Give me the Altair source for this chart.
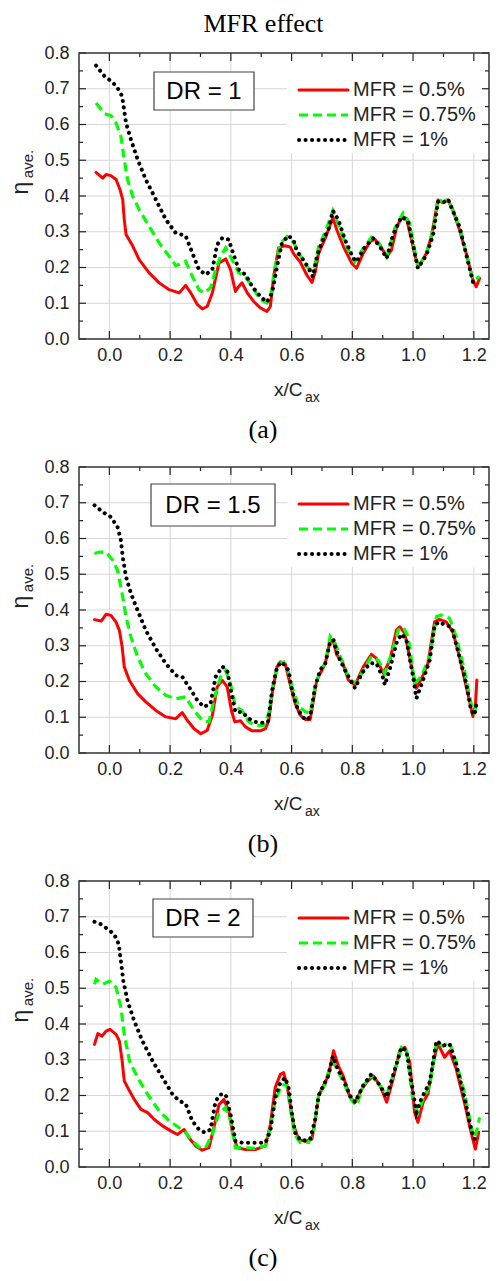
import altair as alt
import pandas as pd

# ---------------- data ----------------
SERIES = ["MFR = 0.5%", "MFR = 0.75%", "MFR = 1%"]
DR_LABELS = ["DR = 1", "DR = 1.5", "DR = 2"]
PANEL_TAGS = ["(a)", "(b)", "(c)"]
X_MAJOR = [0.0, 0.2, 0.4, 0.6, 0.8, 1.0, 1.2]
X_MINOR = [0.1, 0.3, 0.5, 0.7, 0.9, 1.1]
Y_MAJOR = [0.0, 0.1, 0.2, 0.3, 0.4, 0.5, 0.6, 0.7, 0.8]
Y_MINOR = [0.05, 0.15, 0.25, 0.35, 0.45, 0.55, 0.65, 0.75]

# Panel (a) DR = 1
A_RED_X = [-0.044, -0.022, -0.011, 0.005, 0.022, 0.035, 0.044, 0.049, 0.055, 0.077, 0.098, 0.131, 0.164, 0.197, 0.23, 0.251, 0.268, 0.29, 0.306, 0.322, 0.339, 0.361, 0.383, 0.399, 0.415, 0.426, 0.437, 0.454, 0.475, 0.497, 0.519, 0.53, 0.541, 0.557, 0.579, 0.596, 0.607, 0.628, 0.65, 0.667, 0.678, 0.689, 0.711, 0.721, 0.736, 0.749, 0.771, 0.798, 0.814, 0.836, 0.858, 0.874, 0.891, 0.913, 0.929, 0.945, 0.962, 0.978, 0.995, 1.011, 1.022, 1.044, 1.06, 1.082, 1.098, 1.115, 1.131, 1.153, 1.175, 1.197, 1.208, 1.219]
A_RED_Y = [0.466, 0.45, 0.46, 0.457, 0.446, 0.418, 0.39, 0.334, 0.292, 0.26, 0.222, 0.185, 0.157, 0.138, 0.129, 0.15, 0.129, 0.096, 0.084, 0.091, 0.129, 0.213, 0.224, 0.194, 0.133, 0.147, 0.157, 0.129, 0.105, 0.087, 0.077, 0.091, 0.175, 0.255, 0.261, 0.257, 0.238, 0.216, 0.179, 0.158, 0.188, 0.24, 0.282, 0.305, 0.34, 0.305, 0.258, 0.212, 0.198, 0.24, 0.272, 0.279, 0.263, 0.23, 0.249, 0.31, 0.342, 0.338, 0.277, 0.216, 0.207, 0.24, 0.286, 0.389, 0.381, 0.389, 0.361, 0.305, 0.24, 0.165, 0.146, 0.17]
A_GRN_X = [-0.044, -0.016, 0.005, 0.022, 0.038, 0.049, 0.06, 0.077, 0.098, 0.131, 0.164, 0.197, 0.219, 0.251, 0.273, 0.295, 0.311, 0.333, 0.35, 0.366, 0.383, 0.404, 0.426, 0.448, 0.47, 0.497, 0.519, 0.533, 0.546, 0.563, 0.585, 0.607, 0.628, 0.65, 0.672, 0.689, 0.711, 0.736, 0.754, 0.781, 0.808, 0.836, 0.863, 0.885, 0.913, 0.94, 0.967, 0.989, 1.016, 1.044, 1.066, 1.082, 1.098, 1.115, 1.153, 1.197, 1.219]
A_GRN_Y = [0.66, 0.63, 0.625, 0.604, 0.567, 0.502, 0.446, 0.399, 0.362, 0.315, 0.269, 0.231, 0.205, 0.217, 0.175, 0.138, 0.129, 0.143, 0.194, 0.231, 0.255, 0.222, 0.185, 0.175, 0.147, 0.11, 0.101, 0.129, 0.203, 0.268, 0.287, 0.27, 0.235, 0.202, 0.188, 0.258, 0.3, 0.359, 0.319, 0.258, 0.216, 0.254, 0.284, 0.272, 0.23, 0.31, 0.352, 0.324, 0.198, 0.24, 0.305, 0.391, 0.384, 0.391, 0.314, 0.165, 0.174]
A_BLK_X = [-0.044, -0.016, 0.011, 0.027, 0.042, 0.055, 0.071, 0.093, 0.12, 0.153, 0.186, 0.219, 0.251, 0.273, 0.295, 0.317, 0.339, 0.355, 0.372, 0.393, 0.407, 0.426, 0.448, 0.47, 0.497, 0.519, 0.536, 0.552, 0.568, 0.59, 0.607, 0.618, 0.639, 0.656, 0.67, 0.683, 0.7, 0.721, 0.736, 0.754, 0.776, 0.803, 0.814, 0.842, 0.869, 0.891, 0.913, 0.934, 0.962, 0.984, 1.016, 1.044, 1.066, 1.082, 1.098, 1.115, 1.153, 1.197, 1.213]
A_BLK_Y = [0.765, 0.735, 0.718, 0.702, 0.679, 0.604, 0.558, 0.502, 0.446, 0.39, 0.334, 0.296, 0.289, 0.241, 0.194, 0.18, 0.194, 0.264, 0.283, 0.278, 0.241, 0.194, 0.18, 0.147, 0.119, 0.103, 0.129, 0.203, 0.268, 0.289, 0.275, 0.244, 0.221, 0.198, 0.174, 0.23, 0.272, 0.305, 0.359, 0.333, 0.277, 0.226, 0.216, 0.258, 0.282, 0.258, 0.226, 0.291, 0.342, 0.328, 0.198, 0.235, 0.291, 0.384, 0.381, 0.391, 0.314, 0.16, 0.16]

# Panel (b) DR = 1.5
B_RED_X = [-0.049, -0.027, -0.011, 0.005, 0.022, 0.033, 0.042, 0.049, 0.066, 0.093, 0.12, 0.153, 0.186, 0.219, 0.24, 0.257, 0.279, 0.301, 0.322, 0.339, 0.355, 0.372, 0.388, 0.402, 0.413, 0.432, 0.448, 0.47, 0.497, 0.514, 0.525, 0.536, 0.552, 0.563, 0.579, 0.596, 0.612, 0.628, 0.645, 0.661, 0.672, 0.683, 0.7, 0.711, 0.727, 0.738, 0.749, 0.765, 0.787, 0.809, 0.836, 0.863, 0.879, 0.902, 0.924, 0.945, 0.956, 0.973, 0.995, 1.011, 1.033, 1.049, 1.071, 1.087, 1.109, 1.131, 1.153, 1.18, 1.197, 1.205, 1.21]
B_RED_Y = [0.373, 0.369, 0.388, 0.385, 0.366, 0.343, 0.297, 0.241, 0.203, 0.166, 0.143, 0.119, 0.101, 0.096, 0.113, 0.091, 0.068, 0.054, 0.063, 0.105, 0.185, 0.203, 0.185, 0.119, 0.087, 0.09, 0.073, 0.062, 0.062, 0.068, 0.091, 0.166, 0.241, 0.255, 0.25, 0.19, 0.139, 0.106, 0.094, 0.094, 0.148, 0.204, 0.232, 0.251, 0.316, 0.311, 0.274, 0.26, 0.204, 0.19, 0.241, 0.276, 0.265, 0.223, 0.26, 0.344, 0.353, 0.335, 0.241, 0.181, 0.218, 0.251, 0.367, 0.374, 0.367, 0.339, 0.269, 0.167, 0.102, 0.13, 0.204]
B_GRN_X = [-0.049, -0.033, -0.011, 0.011, 0.027, 0.042, 0.055, 0.071, 0.093, 0.12, 0.153, 0.186, 0.219, 0.251, 0.279, 0.306, 0.328, 0.344, 0.366, 0.383, 0.399, 0.415, 0.437, 0.459, 0.481, 0.508, 0.525, 0.541, 0.557, 0.574, 0.585, 0.601, 0.623, 0.645, 0.661, 0.678, 0.694, 0.711, 0.727, 0.743, 0.765, 0.792, 0.814, 0.836, 0.863, 0.885, 0.907, 0.929, 0.951, 0.967, 0.984, 1.005, 1.027, 1.055, 1.077, 1.093, 1.12, 1.142, 1.169, 1.191, 1.202, 1.213]
B_GRN_Y = [0.558, 0.562, 0.562, 0.539, 0.511, 0.446, 0.38, 0.324, 0.269, 0.222, 0.185, 0.161, 0.152, 0.157, 0.119, 0.091, 0.087, 0.147, 0.213, 0.231, 0.194, 0.129, 0.119, 0.087, 0.077, 0.077, 0.11, 0.203, 0.25, 0.255, 0.241, 0.186, 0.13, 0.116, 0.111, 0.186, 0.232, 0.251, 0.326, 0.307, 0.26, 0.204, 0.195, 0.232, 0.27, 0.26, 0.223, 0.279, 0.344, 0.353, 0.325, 0.195, 0.214, 0.27, 0.381, 0.386, 0.377, 0.325, 0.232, 0.139, 0.116, 0.148]
B_BLK_X = [-0.049, -0.022, 0.005, 0.027, 0.038, 0.044, 0.055, 0.071, 0.093, 0.12, 0.153, 0.186, 0.219, 0.24, 0.262, 0.29, 0.311, 0.333, 0.35, 0.372, 0.388, 0.402, 0.415, 0.437, 0.459, 0.481, 0.508, 0.522, 0.536, 0.552, 0.568, 0.59, 0.601, 0.617, 0.634, 0.65, 0.661, 0.678, 0.694, 0.711, 0.727, 0.738, 0.754, 0.781, 0.809, 0.831, 0.858, 0.879, 0.902, 0.907, 0.924, 0.945, 0.962, 0.978, 1.0, 1.011, 1.027, 1.055, 1.071, 1.087, 1.104, 1.126, 1.147, 1.175, 1.191, 1.202, 1.21]
B_BLK_Y = [0.693, 0.674, 0.66, 0.632, 0.595, 0.548, 0.492, 0.446, 0.399, 0.343, 0.292, 0.25, 0.217, 0.213, 0.185, 0.147, 0.129, 0.138, 0.213, 0.242, 0.231, 0.166, 0.115, 0.115, 0.096, 0.087, 0.084, 0.087, 0.175, 0.241, 0.255, 0.231, 0.176, 0.13, 0.102, 0.092, 0.102, 0.186, 0.232, 0.251, 0.311, 0.316, 0.27, 0.223, 0.181, 0.223, 0.251, 0.251, 0.209, 0.19, 0.237, 0.307, 0.333, 0.316, 0.214, 0.153, 0.19, 0.26, 0.358, 0.367, 0.358, 0.353, 0.288, 0.195, 0.12, 0.106, 0.144]

# Panel (c) DR = 2
C_RED_X = [-0.049, -0.038, -0.024, -0.011, 0.002, 0.022, 0.033, 0.042, 0.049, 0.066, 0.082, 0.104, 0.126, 0.148, 0.175, 0.202, 0.224, 0.246, 0.262, 0.284, 0.306, 0.328, 0.344, 0.361, 0.377, 0.393, 0.407, 0.421, 0.448, 0.481, 0.514, 0.53, 0.546, 0.563, 0.574, 0.585, 0.596, 0.607, 0.623, 0.645, 0.667, 0.678, 0.689, 0.705, 0.721, 0.738, 0.754, 0.77, 0.792, 0.809, 0.831, 0.847, 0.869, 0.891, 0.913, 0.934, 0.956, 0.973, 0.989, 1.005, 1.016, 1.033, 1.049, 1.066, 1.082, 1.104, 1.12, 1.142, 1.169, 1.191, 1.205, 1.216]
C_RED_Y = [0.343, 0.373, 0.366, 0.38, 0.385, 0.371, 0.352, 0.297, 0.241, 0.213, 0.189, 0.161, 0.152, 0.133, 0.115, 0.101, 0.091, 0.105, 0.082, 0.059, 0.047, 0.054, 0.11, 0.175, 0.189, 0.157, 0.091, 0.054, 0.049, 0.049, 0.059, 0.119, 0.222, 0.259, 0.264, 0.228, 0.172, 0.116, 0.078, 0.071, 0.078, 0.134, 0.2, 0.228, 0.255, 0.325, 0.283, 0.255, 0.195, 0.181, 0.218, 0.237, 0.255, 0.228, 0.181, 0.246, 0.325, 0.335, 0.293, 0.153, 0.125, 0.181, 0.204, 0.293, 0.344, 0.307, 0.325, 0.274, 0.181, 0.097, 0.05, 0.097]
C_GRN_X = [-0.049, -0.044, -0.022, 0.0, 0.022, 0.038, 0.049, 0.066, 0.093, 0.126, 0.164, 0.197, 0.23, 0.251, 0.273, 0.295, 0.317, 0.339, 0.361, 0.383, 0.399, 0.415, 0.448, 0.481, 0.514, 0.53, 0.546, 0.568, 0.585, 0.596, 0.612, 0.628, 0.656, 0.672, 0.689, 0.71, 0.727, 0.738, 0.76, 0.781, 0.798, 0.814, 0.836, 0.863, 0.891, 0.913, 0.934, 0.962, 0.978, 1.0, 1.016, 1.033, 1.055, 1.077, 1.098, 1.12, 1.142, 1.169, 1.194, 1.205, 1.219]
C_GRN_Y = [0.511, 0.525, 0.511, 0.52, 0.502, 0.446, 0.371, 0.297, 0.25, 0.203, 0.157, 0.129, 0.11, 0.096, 0.073, 0.056, 0.054, 0.091, 0.152, 0.166, 0.129, 0.054, 0.054, 0.052, 0.059, 0.11, 0.185, 0.231, 0.228, 0.162, 0.088, 0.069, 0.069, 0.097, 0.2, 0.232, 0.283, 0.293, 0.255, 0.218, 0.186, 0.172, 0.228, 0.255, 0.228, 0.2, 0.255, 0.335, 0.33, 0.181, 0.153, 0.19, 0.228, 0.349, 0.339, 0.349, 0.293, 0.209, 0.102, 0.083, 0.139]
C_BLK_X = [-0.049, -0.027, -0.005, 0.016, 0.031, 0.038, 0.046, 0.06, 0.082, 0.109, 0.142, 0.175, 0.208, 0.23, 0.251, 0.273, 0.295, 0.315, 0.333, 0.35, 0.366, 0.383, 0.399, 0.415, 0.437, 0.47, 0.514, 0.53, 0.546, 0.563, 0.579, 0.59, 0.601, 0.612, 0.628, 0.65, 0.661, 0.678, 0.689, 0.705, 0.721, 0.736, 0.749, 0.77, 0.792, 0.809, 0.836, 0.863, 0.891, 0.913, 0.934, 0.962, 0.978, 1.0, 1.011, 1.027, 1.055, 1.077, 1.098, 1.12, 1.142, 1.169, 1.191, 1.202, 1.213]
C_BLK_Y = [0.686, 0.679, 0.665, 0.651, 0.623, 0.576, 0.52, 0.464, 0.408, 0.352, 0.297, 0.25, 0.203, 0.185, 0.177, 0.129, 0.105, 0.096, 0.105, 0.185, 0.203, 0.203, 0.147, 0.073, 0.068, 0.068, 0.068, 0.101, 0.194, 0.236, 0.25, 0.222, 0.15, 0.095, 0.076, 0.074, 0.078, 0.134, 0.2, 0.228, 0.255, 0.31, 0.279, 0.246, 0.2, 0.181, 0.228, 0.26, 0.228, 0.195, 0.255, 0.335, 0.325, 0.209, 0.153, 0.19, 0.237, 0.353, 0.339, 0.344, 0.288, 0.195, 0.106, 0.078, 0.078]

PANEL_DATA = [
    [(A_RED_X, A_RED_Y), (A_GRN_X, A_GRN_Y), (A_BLK_X, A_BLK_Y)],
    [(B_RED_X, B_RED_Y), (B_GRN_X, B_GRN_Y), (B_BLK_X, B_BLK_Y)],
    [(C_RED_X, C_RED_Y), (C_GRN_X, C_GRN_Y), (C_BLK_X, C_BLK_Y)],
]

# ---------------- layout / style ----------------
W, H = 410, 286
XDOM = [-0.1, 1.25]
YDOM = [0.0, 0.8]
SANS = "Liberation Sans"
SERIF = "Liberation Serif"
INK = "#222222"
GRID = "#d6d6d6"

LINE_STYLE = [
    dict(color="#ff0000", strokeWidth=3, strokeCap="round", strokeJoin="round"),
    dict(color="#00ff00", strokeWidth=3.2, strokeDash=[9, 5]),
    dict(color="#000000", strokeWidth=4, strokeDash=[0.1, 6.4], strokeCap="round"),
]
DR_BOX = [(75, 175, 19, 57), (72, 196, 17, 59), (74, 174, 18, 56)]


def x_axis():
    return alt.Axis(orient="bottom", values=X_MAJOR, format=".1f", title=None, grid=False,
                    ticks=False, domain=False, labelFont=SANS, labelFontSize=18,
                    labelColor=INK, labelPadding=7, labelOverlap=False)


def y_axis():
    return alt.Axis(orient="left", values=Y_MAJOR, format=".1f", title=None, grid=False,
                    ticks=False, domain=False, labelFont=SANS, labelFontSize=18,
                    labelColor=INK, labelPadding=10, labelOverlap=False)


# every layer that uses a field on x / y carries the identical axis, so they merge into one
def X(field="x"):
    return alt.X(f"{field}:Q", scale=alt.Scale(domain=XDOM, nice=False, zero=False), axis=x_axis())


def Y(field="y"):
    return alt.Y(f"{field}:Q", scale=alt.Scale(domain=YDOM, nice=False), axis=y_axis())


ONE = pd.DataFrame({"v": [0]})


def text(t, x, y, size, font=SANS, angle=0, align="center", baseline="middle", color="#000000"):
    return alt.Chart(ONE).mark_text(text=t, font=font, fontSize=size, angle=angle,
                                    align=align, baseline=baseline, color=color).encode(
        x=alt.value(x), y=alt.value(y))


def vrules(values, y1, y2, color, width):
    return alt.Chart(pd.DataFrame({"x": values})).mark_rule(color=color, strokeWidth=width).encode(
        x=X(), y=alt.value(y1), y2=alt.value(y2))


def hrules(values, x1, x2, color, width):
    return alt.Chart(pd.DataFrame({"y": values})).mark_rule(color=color, strokeWidth=width).encode(
        y=Y(), x=alt.value(x1), x2=alt.value(x2))


def panel(k):
    frames = [pd.DataFrame({"x": x, "y": y}) for x, y in PANEL_DATA[k]]
    layers = [
        vrules(X_MAJOR, 0, H, GRID, 1),
        hrules(Y_MAJOR[1:-1], 0, W, GRID, 1),
    ]
    for df, st in zip(frames, LINE_STYLE):
        layers.append(alt.Chart(df).mark_line(**st).encode(x=X(), y=Y()))

    # legend (white background, sample lines, labels)
    layers.append(alt.Chart(ONE).mark_rect(fill="white").encode(
        x=alt.value(208), x2=alt.value(406), y=alt.value(1), y2=alt.value(100)))
    for j, (name, st) in enumerate(zip(SERIES, LINE_STYLE)):
        yy = 37 + 25 * j
        layers.append(alt.Chart(ONE).mark_rule(**st).encode(
            x=alt.value(220), x2=alt.value(269), y=alt.value(yy)))
        layers.append(text(name, 274, yy, 20, align="left", color=INK))

    # DR box
    x1, x2, y1, y2 = DR_BOX[k]
    layers.append(alt.Chart(ONE).mark_rect(fill="white", stroke="#444444", strokeWidth=1.2).encode(
        x=alt.value(x1), x2=alt.value(x2), y=alt.value(y1), y2=alt.value(y2)))
    layers.append(text(DR_LABELS[k], (x1 + x2) / 2, (y1 + y2) / 2 + 1, 24))

    # inward ticks on all four sides + frame
    layers += [
        vrules(X_MAJOR, H - 8, H, INK, 1.2), vrules(X_MINOR, H - 4, H, INK, 1.2),
        vrules(X_MAJOR, 0, 8, INK, 1.2), vrules(X_MINOR, 0, 4, INK, 1.2),
        hrules(Y_MAJOR, 0, 7, INK, 1.2), hrules(Y_MINOR, 0, 4, INK, 1.2),
        hrules(Y_MAJOR, W - 7, W, INK, 1.2), hrules(Y_MINOR, W - 4, W, INK, 1.2),
    ]
    layers.append(alt.Chart(ONE).mark_rect(fillOpacity=0, stroke="#333333", strokeWidth=1.5).encode(
        x=alt.value(0), x2=alt.value(W), y=alt.value(0), y2=alt.value(H)))

    # axis titles and panel tag
    layers.append(text("η", -58, 135, 23, angle=270, color=INK))
    layers.append(text("ave.", -51, 111, 15, angle=270, color=INK))
    layers.append(text("x/C", 195, H + 57, 19, align="left", baseline="alphabetic", color=INK))
    layers.append(text("ax", 226, H + 63, 14, align="left", baseline="alphabetic", color=INK))
    layers.append(text(PANEL_TAGS[k], 184, H + 99, 26, font=SERIF, baseline="alphabetic"))
    if k == 0:
        # invisible guard fixing the top edge of the figure, then the figure title
        layers.append(alt.Chart(ONE).mark_rule(strokeOpacity=0, strokeWidth=0.1).encode(
            x=alt.value(150), x2=alt.value(220), y=alt.value(-45)))
        layers.append(text("MFR effect", 184.5, -42.3, 26, font=SERIF, baseline="top"))

    return alt.layer(*layers).properties(width=W, height=H)


chart = alt.vconcat(panel(0), panel(1), panel(2), spacing=128, bounds="flush").properties(
    padding={"left": 2, "top": 0, "right": 0, "bottom": 0}
).configure_view(strokeWidth=0)

chart.save("out.html", embed_options={"renderer": "svg", "actions": False})
